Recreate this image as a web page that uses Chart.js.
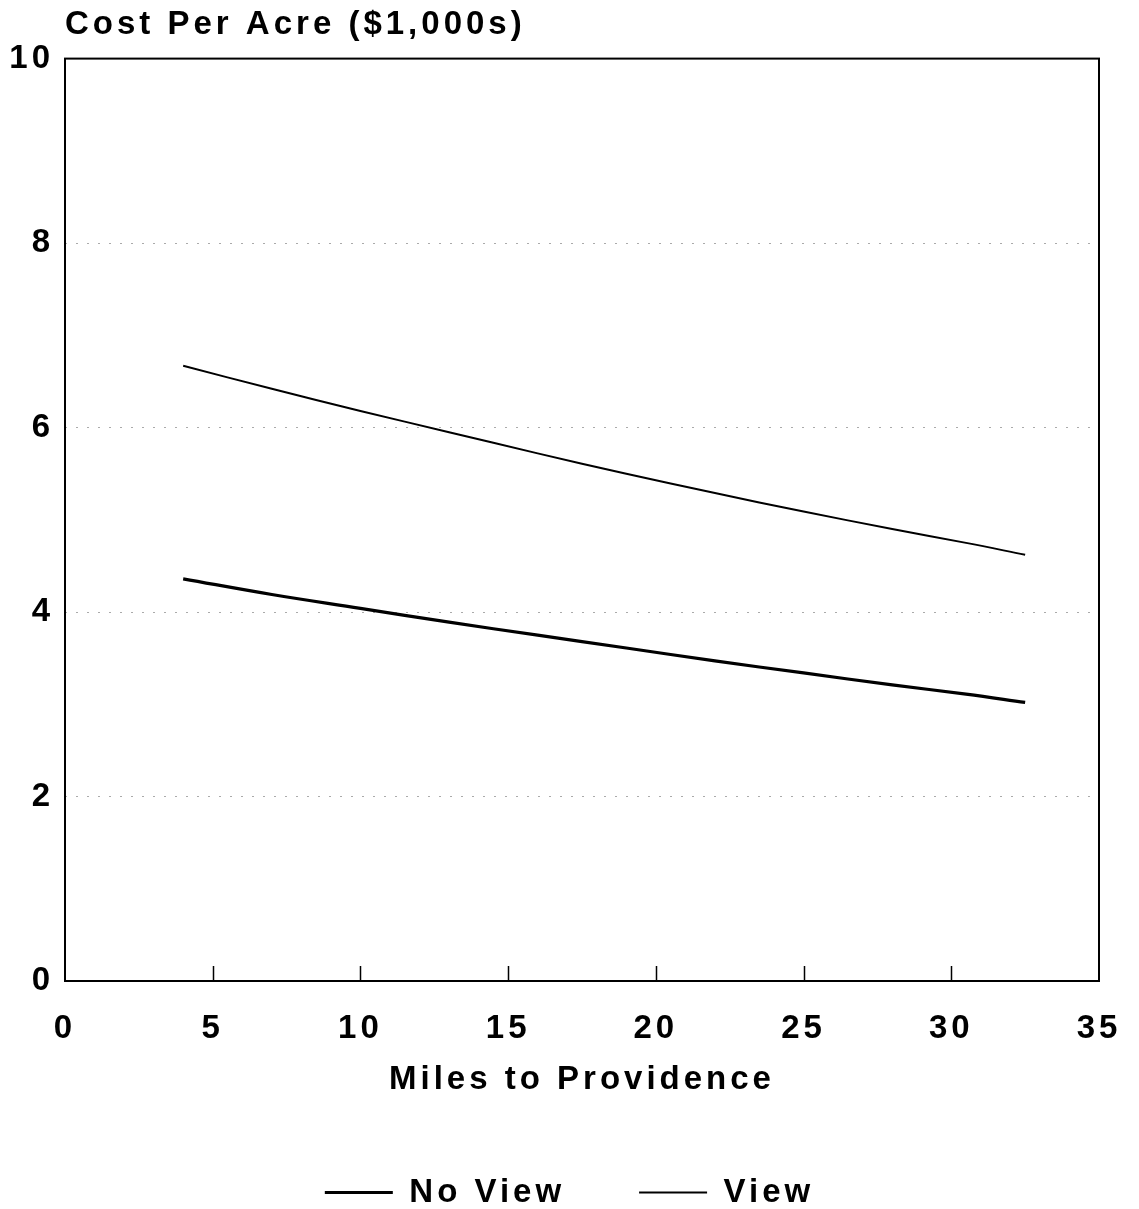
<!DOCTYPE html>
<html>
<head>
<meta charset="utf-8">
<script src="https://cdn.jsdelivr.net/npm/chart.js@4/dist/chart.umd.min.js"></script>
<style>
  html, body { margin: 0; padding: 0; background: #fff; }
  #c { display: block; }
</style>
</head>
<body>
<canvas id="c" width="1139" height="1209"></canvas>
<script>
// ---- data ----
const miles   = [4, 7, 10, 13, 16, 19, 22, 25, 28, 30.5, 32.5];
const noView  = [4.36, 4.19, 4.04, 3.89, 3.75, 3.61, 3.47, 3.34, 3.21, 3.11, 3.02];
const view    = [6.67, 6.42, 6.18, 5.95, 5.72, 5.50, 5.29, 5.09, 4.90, 4.75, 4.62];
const seriesNames = ['No View', 'View'];
const titleText = 'Cost Per Acre ($1,000s)';
const xTitle = 'Miles to Providence';
const xTicksInner = [5, 10, 15, 20, 25, 30];

const FONT = "'Liberation Sans', Arial, Helvetica, sans-serif";
const SPACING = '4px';
const F = { family: FONT, size: 33, weight: 'bold' };

const toPts = (xs, ys) => xs.map((x, i) => ({ x: x, y: ys[i] }));

const spacingPlugin = {
  id: 'spacing',
  beforeUpdate(chart) { chart.ctx.letterSpacing = SPACING; },
  beforeLayout(chart) { chart.ctx.letterSpacing = SPACING; },
  beforeDraw(chart) { chart.ctx.letterSpacing = SPACING; }
};

const framePlugin = {
  id: 'frame',
  afterDatasetsDraw(chart) {
    const { ctx, chartArea: a, scales } = chart;
    ctx.save();
    ctx.strokeStyle = '#000';
    ctx.lineWidth = 2;
    ctx.strokeRect(a.left, a.top, a.right - a.left, a.bottom - a.top);
    ctx.lineWidth = 1.5;
    ctx.beginPath();
    xTicksInner.forEach(v => {
      const px = Math.round(scales.x.getPixelForValue(v)) + 0.5;
      ctx.moveTo(px, a.bottom);
      ctx.lineTo(px, a.bottom - 15);
    });
    ctx.stroke();
    ctx.restore();
  }
};

new Chart(document.getElementById('c'), {
  type: 'line',
  data: {
    datasets: [
      { label: seriesNames[0], data: toPts(miles, noView), borderColor: '#000', backgroundColor: '#000',
        borderWidth: 3.2, pointRadius: 0, tension: 0.4, fill: false },
      { label: seriesNames[1], data: toPts(miles, view), borderColor: '#000', backgroundColor: '#000',
        borderWidth: 2, pointRadius: 0, tension: 0.4, fill: false }
    ]
  },
  options: {
    responsive: false,
    devicePixelRatio: 1,
    animation: false,
    layout: { padding: { left: 0, right: 0, top: 0, bottom: 0 } },
    plugins: {
      tooltip: { enabled: false },
      title: {
        display: true,
        text: titleText,
        align: 'start',
        fullSize: false,
        color: '#000',
        font: F,
        padding: { top: 5, bottom: 14 }
      },
      legend: {
        position: 'bottom',
        maxHeight: 107,
        labels: {
          usePointStyle: true,
          pointStyle: 'line',
          pointStyleWidth: 68,
          padding: 74,
          color: '#000',
          font: F
        }
      }
    },
    scales: {
      x: {
        type: 'linear',
        min: 0, max: 35,
        afterFit(s) { s.height = 121; s.paddingRight = 40; s.paddingLeft = 0; },
        ticks: { stepSize: 5, color: '#000', padding: 28, font: F },
        grid: { display: false, drawTicks: false },
        border: { display: false },
        title: { display: true, text: xTitle, color: '#000',
                 font: F, padding: { top: 0, bottom: 2 } }
      },
      y: {
        min: 0, max: 10,
        afterFit(s) { s.width = 65; },
        ticks: { stepSize: 2, color: '#000', padding: 11, font: F },
        grid: {
          drawTicks: false,
          color: ctx => (ctx.tick && (ctx.tick.value === 0 || ctx.tick.value === 10)) ? 'rgba(0,0,0,0)' : '#aaa',
          lineWidth: 1
        },
        border: { display: false, dash: [2, 9] }
      }
    }
  },
  plugins: [spacingPlugin, framePlugin]
});
</script>
</body>
</html>
